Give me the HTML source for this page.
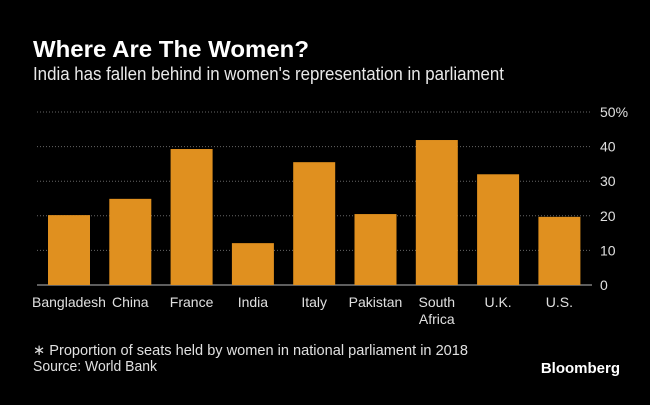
<!DOCTYPE html>
<html><head><meta charset="utf-8"><style>
body{margin:0;background:#000;width:650px;height:400px;overflow:hidden;font-family:"Liberation Sans",sans-serif}
svg text{font-family:"Liberation Sans",sans-serif}
</style></head><body>
<svg width="650" height="400" xmlns="http://www.w3.org/2000/svg">
<rect width="650" height="400" fill="#000"/>
<text x="33" y="57" fill="#fff" font-size="23" font-weight="bold" textLength="276" lengthAdjust="spacingAndGlyphs">Where Are The Women?</text>
<text x="33" y="80" fill="#e8e8e8" font-size="18" textLength="471" lengthAdjust="spacingAndGlyphs">India has fallen behind in women's representation in parliament</text>
<g id="grid"></g><g id="bars"></g><g id="xlabels"></g>
<text x="33" y="355" fill="#e0e0e0" font-size="15" textLength="435" lengthAdjust="spacingAndGlyphs">∗ Proportion of seats held by women in national parliament in 2018</text>
<text x="33" y="371" fill="#e0e0e0" font-size="15" textLength="124" lengthAdjust="spacingAndGlyphs">Source: World Bank</text>
<text x="620" y="373" fill="#fff" font-size="15" font-weight="bold" text-anchor="end">Bloomberg</text>
</svg>
<script>
const categories=["Bangladesh","China","France","India","Italy","Pakistan","South|Africa","U.K.","U.S."];
const values=[20.2,24.9,39.3,12.1,35.5,20.5,41.9,32.0,19.7];
const ticks=[0,10,20,30,40,50];
const tickLabels=["0","10","20","30","40","50%"];
const NS="http://www.w3.org/2000/svg";
const y0=285,y1=112,vmax=50,xl=37,xr=592,first=48,step=61.3,bw=42;
const y=v=>y0-(v/vmax)*(y0-y1);
const x=i=>first+i*step;
function mk(t,a,p){const e=document.createElementNS(NS,t);for(const k in a)e.setAttribute(k,a[k]);p.appendChild(e);return e;}
const g=document.getElementById('grid'),b=document.getElementById('bars'),xlab=document.getElementById('xlabels');
ticks.forEach((t,i)=>{
 const l=mk('line',{x1:xl,x2:xr,y1:y(t),y2:y(t),stroke:t===0?'#bbb':'#666','stroke-width':1,'stroke-dasharray':t===0?'':'1,2'},g);
 
 
 const tx=mk('text',{x:600,y:y(t)+5,fill:'#e0e0e0','font-size':14},g);
 tx.textContent=tickLabels[i];
 
 
});
values.forEach((v,i)=>{
 const r=mk('rect',{x:x(i),y:y(v),width:bw,height:y0-y(v),fill:'#e0901f'},b);
 
 
 const parts=categories[i].split('|');
 parts.forEach((p,j)=>{
  const t=mk('text',{x:x(i)+bw/2,y:307+j*17,fill:'#e0e0e0','font-size':14,'text-anchor':'middle'},xlab);
  t.textContent=p;
  
  
 });
});
</script>
</body></html>
